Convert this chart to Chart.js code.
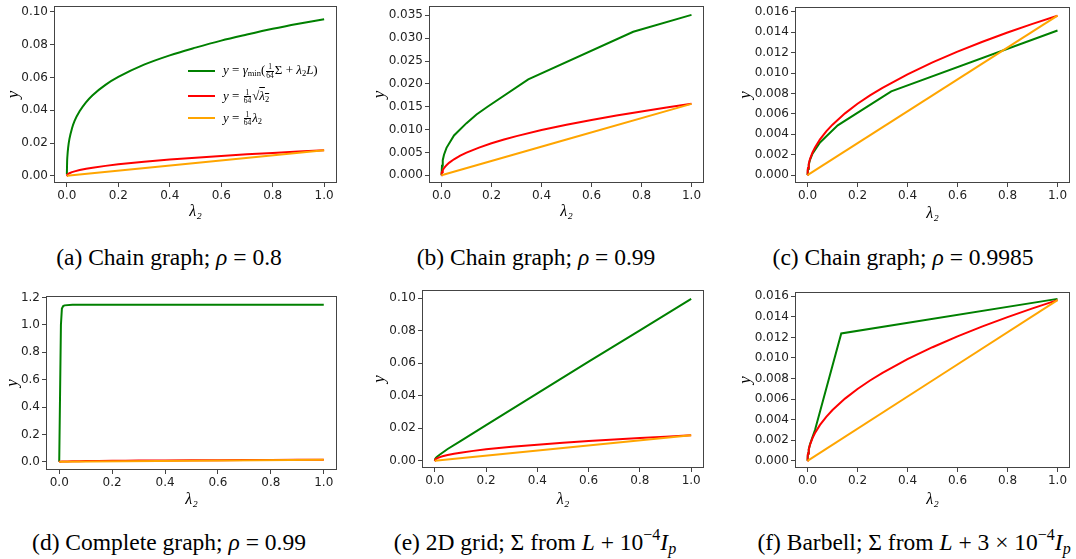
<!DOCTYPE html>
<html>
<head>
<meta charset="utf-8">
<script src="https://cdn.jsdelivr.net/npm/chart.js@4.4.1/dist/chart.umd.min.js"></script>
<style>
  body { margin: 0; background: #fff; }
  #fig { position: relative; width: 1076px; height: 559px; overflow: hidden; background: #fff; }
  canvas { position: absolute; }
  .cap { position: absolute; width: 440px; text-align: center; font-family: 'Liberation Serif', serif; font-size: 23.5px; line-height: 24px; color: #000; white-space: nowrap; }
  .cap sup { font-size: 16px; line-height: 0; vertical-align: 10px; }
  .cap sub { font-size: 16px; line-height: 0; vertical-align: -4px; }
  .lg { position: absolute; font-family: 'Liberation Serif', serif; font-size: 13px; line-height: 13px; color: #000; white-space: nowrap; }
  .lg sub { font-size: 8.5px; line-height: 0; vertical-align: -2px; }
  .fr { display: inline-block; vertical-align: middle; text-align: center; font-size: 7.5px; line-height: 7.5px; margin: 0 1px; }
  .fr span { display: block; }
  .fr span:first-child { border-bottom: 0.7px solid #000; padding: 0 1px; }
  .sw { position: absolute; width: 27px; height: 2px; }
</style>
</head>
<body>
<div id="fig"></div>
<script>
// shared values
const xTicks = [0, 0.2, 0.4, 0.6, 0.8, 1.0]
const lambdas = [0, 0.0005, 0.001, 0.002, 0.005, 0.01, 0.02, 0.03, 0.05, 0.075, 0.1, 0.15, 0.2, 0.25, 0.3, 0.4, 0.5, 0.6, 0.7, 0.8, 0.9, 1.0]
const redY = [0, 0.000349, 0.000494, 0.000699, 0.001105, 0.001563, 0.002210, 0.002706, 0.003494, 0.004279, 0.004941, 0.006052, 0.006988, 0.007813, 0.008558, 0.009882, 0.011049, 0.012103, 0.013073, 0.013975, 0.014823, 0.015625]
const orangeX = [0, 0.5, 1.0]
const orangeY = [0, 0.0078125, 0.015625]

// green curve of each panel
const greenAX = [0, 0.001, 0.002, 0.005, 0.01, 0.02, 0.03, 0.05, 0.075, 0.1, 0.15, 0.2, 0.3, 0.4, 0.5, 0.6, 0.7, 0.8, 0.9, 1.0]
const greenAY = [0.001, 0.0088, 0.0118, 0.0172, 0.0225, 0.0290, 0.0335, 0.0395, 0.0450, 0.0492, 0.0555, 0.0603, 0.0678, 0.0735, 0.0782, 0.0825, 0.0862, 0.0897, 0.0928, 0.0956]
const greenBX = [0, 0.002, 0.005, 0.01, 0.02, 0.05, 0.1, 0.14, 0.184, 0.347, 0.767, 1.0]
const greenBY = [0, 0.0021, 0.0033, 0.0045, 0.0060, 0.0087, 0.0114, 0.0133, 0.0150, 0.0210, 0.0314, 0.0351]
const greenCX = [0, 0.002, 0.005, 0.01, 0.02, 0.05, 0.121, 0.335, 1.0]
const greenCY = [0, 0.0006, 0.0010, 0.0015, 0.0021, 0.0032, 0.00487, 0.00821, 0.01418]
const greenDX = [0, 0.0064, 0.0101, 0.015, 0.02, 0.05, 1.0]
const greenDY = [0, 1.0, 1.12, 1.138, 1.143, 1.147, 1.148]
const greenEX = [0, 0.002, 0.005, 0.01, 0.02, 0.05, 0.1, 0.2, 0.4, 0.6, 0.8, 1.0]
const greenEY = [0, 0.0012, 0.0019, 0.0026, 0.0038, 0.0072, 0.0121, 0.0219, 0.0414, 0.061, 0.0803, 0.0996]
const greenFX = [0, 0.002, 0.005, 0.01, 0.02, 0.03, 0.135, 1.0]
const greenFY = [0, 0.0007, 0.0011, 0.0016, 0.0023, 0.0030, 0.01239, 0.01575]

const yTicksA = [0, 0.02, 0.04, 0.06, 0.08, 0.10]
const yTicksB = [0, 0.005, 0.010, 0.015, 0.020, 0.025, 0.030, 0.035]
const yTicksC = [0, 0.002, 0.004, 0.006, 0.008, 0.010, 0.012, 0.014, 0.016]
const yTicksD = [0, 0.2, 0.4, 0.6, 0.8, 1.0, 1.2]

const captions = [
  '(a) Chain graph; <i>ρ</i> = 0.8',
  '(b) Chain graph; <i>ρ</i> = 0.99',
  '(c) Chain graph; <i>ρ</i> = 0.9985',
  '(d) Complete graph; <i>ρ</i> = 0.99',
  '(e) 2D grid; Σ from <i>L</i> + 10<sup>−4</sup><i>I<sub>p</sub></i>',
  '(f) Barbell; Σ from <i>L</i> + 3 × 10<sup>−4</sup><i>I<sub>p</sub></i>'
]

// layout of each panel: plot box [left, top, right, bottom], centre of y label, centre of x label, caption centre
const panels = [
  {gx: greenAX, gy: greenAY, ticks: yTicksA, dec: 2, ymin: -0.0044, ymax: 0.1035, box: [54, 5, 337, 183], ylab: 12.7, xlab: 211.7, cap: [169, 257]},
  {gx: greenBX, gy: greenBY, ticks: yTicksB, dec: 3, ymin: -0.0017, ymax: 0.0370, box: [429, 5, 704, 183], ylab: 378.3, xlab: 211.7, cap: [536, 257]},
  {gx: greenCX, gy: greenCY, ticks: yTicksC, dec: 3, ymin: -0.00078, ymax: 0.01646, box: [795, 6, 1070, 183], ylab: 744.3, xlab: 213, cap: [903, 257]},
  {gx: greenDX, gy: greenDY, ticks: yTicksD, dec: 1, ymin: -0.06, ymax: 1.21, box: [46, 295, 337, 470], ylab: 11.7, xlab: 499, cap: [169, 542]},
  {gx: greenEX, gy: greenEY, ticks: yTicksA, dec: 2, ymin: -0.0045, ymax: 0.105, box: [422, 289, 704, 468], ylab: 378.3, xlab: 499, cap: [535, 542]},
  {gx: greenFX, gy: greenFY, ticks: yTicksC, dec: 3, ymin: -0.0007, ymax: 0.0164, box: [795, 291, 1070, 468], ylab: 744.3, xlab: 499, cap: [914, 542]}
]

const fig = document.getElementById('fig')
const pts = (xs, ys) => xs.map((x, i) => ({x: x, y: ys[i]}))

const frame = {
  id: 'frame',
  afterDraw(chart) {
    const a = chart.chartArea
    const ctx = chart.ctx
    ctx.save()
    ctx.strokeStyle = '#444'
    ctx.lineWidth = 1
    ctx.strokeRect(Math.round(a.left) + 0.5, Math.round(a.top) + 0.5, Math.round(a.right - a.left) - 1, Math.round(a.bottom - a.top) - 1)
    ctx.restore()
  }
}

const PAD = 8
const HALF = 9.6

panels.forEach(function (p, k) {
  const [l, t, r, b] = p.box
  const cl = Math.round(p.ylab - HALF)
  const ct = t - PAD
  const cb = Math.round(p.xlab + HALF)
  const canvas = document.createElement('canvas')
  canvas.width = r + PAD - cl
  canvas.height = cb - ct
  canvas.style.left = cl + 'px'
  canvas.style.top = ct + 'px'
  fig.appendChild(canvas)

  new Chart(canvas, {
    type: 'line',
    data: {
      datasets: [
        {label: 'green', data: pts(p.gx, p.gy), borderColor: '#008000', borderWidth: 2, pointRadius: 0, order: 3, cubicInterpolationMode: k === 0 ? 'monotone' : 'default'},
        {label: 'red', data: pts(lambdas, redY), borderColor: '#ff0000', borderWidth: 2, pointRadius: 0, order: 2},
        {label: 'orange', data: pts(orangeX, orangeY), borderColor: '#ffa500', borderWidth: 2, pointRadius: 0, order: 1}
      ]
    },
    options: {
      responsive: false,
      animation: false,
      devicePixelRatio: 1,
      layout: {padding: {top: PAD, right: PAD, left: 0, bottom: 0}},
      scales: {
        x: {
          type: 'linear',
          min: -0.05,
          max: 1.05,
          afterBuildTicks: (s) => { s.ticks = xTicks.map(v => ({value: v})) },
          afterFit: (s) => { s.height = cb - b },
          ticks: {font: {family: 'DejaVu Sans', size: 12}, color: '#222', padding: 2, maxRotation: 0, callback: (v) => v.toFixed(1)},
          grid: {drawOnChartArea: false, drawTicks: true, tickLength: 4, color: '#444'},
          border: {display: false},
          title: {display: true, text: 'λ₂', font: {family: 'Liberation Serif', size: 16, style: 'italic'}, color: '#000', padding: 0}
        },
        y: {
          type: 'linear',
          min: p.ymin,
          max: p.ymax,
          afterBuildTicks: (s) => { s.ticks = p.ticks.map(v => ({value: v})) },
          afterFit: (s) => { s.width = l - cl },
          ticks: {font: {family: 'DejaVu Sans', size: 12}, color: '#222', padding: 2, callback: (v) => v.toFixed(p.dec)},
          grid: {drawOnChartArea: false, drawTicks: true, tickLength: 4, color: '#444'},
          border: {display: false},
          title: {display: true, text: 'y', font: {family: 'Liberation Serif', size: 17, style: 'italic'}, color: '#000', padding: 0}
        }
      },
      plugins: {
        legend: {display: false},
        tooltip: {enabled: false}
      }
    },
    plugins: [frame]
  })

  const cap = document.createElement('div')
  cap.className = 'cap'
  cap.innerHTML = captions[k]
  cap.style.left = (p.cap[0] - 220) + 'px'
  cap.style.top = (p.cap[1] - 12) + 'px'
  fig.appendChild(cap)
})

// legend of panel (a)
const legendItems = [
  {color: '#008000', y: 70.7, html: '<i>y</i> = <i>γ</i><sub>min</sub>(<span class="fr"><span>1</span><span>64</span></span>Σ + <i>λ</i><sub>2</sub><i>L</i>)'},
  {color: '#ff0000', y: 96, html: '<i>y</i> = <span class="fr"><span>1</span><span>64</span></span>√<span style="text-decoration:overline"><i>λ</i><sub>2</sub></span>'},
  {color: '#ffa500', y: 118.3, html: '<i>y</i> = <span class="fr"><span>1</span><span>64</span></span><i>λ</i><sub>2</sub>'}
]
legendItems.forEach(function (it) {
  const sw = document.createElement('div')
  sw.className = 'sw'
  sw.style.background = it.color
  sw.style.left = '188px'
  sw.style.top = (it.y - 1) + 'px'
  fig.appendChild(sw)
  const tx = document.createElement('div')
  tx.className = 'lg'
  tx.innerHTML = it.html
  tx.style.left = '223px'
  tx.style.top = (it.y - 7.5) + 'px'
  fig.appendChild(tx)
})
</script>
</body>
</html>
